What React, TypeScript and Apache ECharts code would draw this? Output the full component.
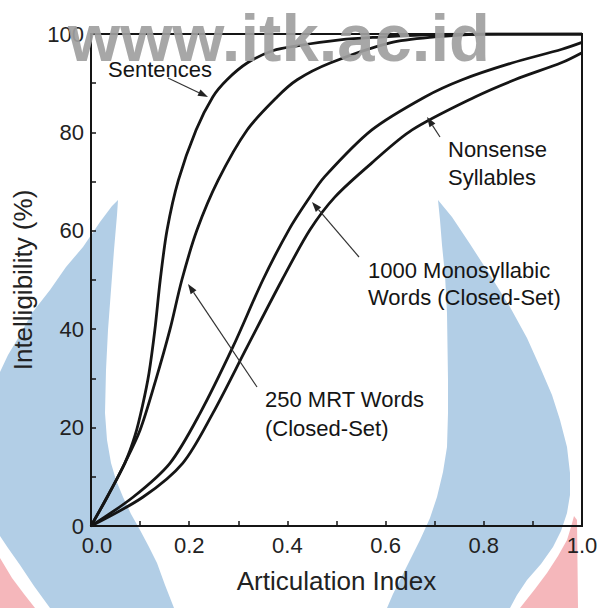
import React, { useEffect, useRef } from 'react';
import * as echarts from 'echarts';

// Curves: [Articulation Index, Intelligibility %]
const sentences: [number, number][] = [
  [0, 0], [0.033, 5.9], [0.069, 12.8], [0.09, 18.5], [0.105, 24.5], [0.118, 31],
  [0.130, 39.8], [0.141, 50], [0.155, 60.2], [0.178, 70.3], [0.214, 80.5], [0.248, 87.2],
  [0.277, 90.7], [0.318, 94.1], [0.37, 96.6], [0.42, 97.6], [0.507, 98.8], [0.574, 99.3],
  [0.7, 99.9], [1.0, 100],
];
const mrtWords: [number, number][] = [
  [0, 0], [0.033, 5.9], [0.069, 12.8], [0.1, 19.5], [0.132, 29.7], [0.161, 40],
  [0.185, 50], [0.216, 60.2], [0.259, 70.3], [0.318, 80.5], [0.379, 87.2], [0.42, 90.7],
  [0.487, 94.1], [0.609, 98.2], [0.7, 99.4], [0.8, 100], [1.0, 100],
];
const monosyllabic: [number, number][] = [
  [0, 0], [0.086, 5.9], [0.161, 12.8], [0.222, 22.9], [0.289, 36.4], [0.350, 50],
  [0.403, 60.2], [0.442, 66.3], [0.476, 71], [0.572, 80.5], [0.680, 87.2],
  [0.756, 90.7], [0.857, 94.1], [0.959, 96.9], [1.0, 98.3],
];
const nonsense: [number, number][] = [
  [0, 0], [0.106, 5.9], [0.187, 12.8], [0.248, 22.9], [0.318, 36.4], [0.389, 50],
  [0.446, 60.2], [0.497, 66.9], [0.572, 73.8], [0.654, 80.5], [0.782, 87.2],
  [0.863, 90.7], [0.959, 94.2], [1.0, 96.2],
];

const xAxisName = 'Articulation Index';
const yAxisName = 'Intelligibility (%)';
const sentencesLabel = ['Sentences'];
const nonsenseLabel = ['Nonsense', 'Syllables'];
const monoLabel = ['1000 Monosyllabic', 'Words (Closed-Set)'];
const mrtLabel = ['250 MRT Words', '(Closed-Set)'];
const watermark = 'www.itk.ac.id';

const FONT = '"Liberation Sans", Arial, Helvetica, sans-serif';
const INK = '#151515';

function arrow(x1: number, y1: number, x2: number, y2: number) {
  const ang = Math.atan2(y2 - y1, x2 - x1);
  const L = 10, W = 3.5;
  const bx = x2 - L * Math.cos(ang), by = y2 - L * Math.sin(ang);
  const px = -Math.sin(ang) * W, py = Math.cos(ang) * W;
  return [
    { type: 'line', z: 50, shape: { x1, y1, x2: bx, y2: by }, style: { stroke: '#333', lineWidth: 1.2 } },
    { type: 'polygon', z: 50, shape: { points: [[x2, y2], [bx + px, by + py], [bx - px, by - py]] }, style: { fill: '#222' } },
  ];
}

function textLines(lines: string[], x: number, y: number, lh: number) {
  return lines.map((t, i) => ({
    type: 'text', z: 50, x, y: y + i * lh,
    style: { text: t, font: `22px ${FONT}`, fill: INK, align: 'left', verticalAlign: 'middle' },
  }));
}

export default function App() {
  const ref = useRef<HTMLDivElement>(null);
  useEffect(() => {
    if (!ref.current) return;
    const chart = echarts.init(ref.current, undefined, { renderer: 'svg' });
    const lineSeries = (name: string, data: [number, number][]) => ({
      name, type: 'line', data, symbol: 'none', smooth: 0.3,
      lineStyle: { color: INK, width: 2.8 }, z: 3,
    });
    const blue = '#b2cee6';
    const pink = '#f5b7bb';
    chart.setOption({
      animation: false,
      backgroundColor: '#ffffff',
      grid: { left: 91, right: 23, top: 34, bottom: 82, show: true, borderColor: INK, borderWidth: 2, backgroundColor: 'transparent' },
      xAxis: {
        type: 'value', min: 0, max: 1, interval: 0.2,
        axisLine: { show: true, lineStyle: { color: INK, width: 2 } },
        axisTick: { show: true, inside: true, length: 5, lineStyle: { color: INK, width: 1.5 } },
        minorTick: { show: true, splitNumber: 2, length: 5, lineStyle: { color: INK, width: 1.5 } },
        splitLine: { show: false },
        axisLabel: {
          formatter: (v: number) => (v === 0 ? '{first|0.0}' : v.toFixed(1)),
          fontSize: 22, color: '#222', fontFamily: FONT, margin: 8,
          rich: { first: { fontSize: 22, color: '#222', fontFamily: FONT, padding: [0, 0, 0, 12] } },
        },
        name: xAxisName, nameLocation: 'middle', nameGap: 42,
        nameTextStyle: { fontSize: 26, color: '#222', fontFamily: FONT },
      },
      yAxis: {
        type: 'value', min: 0, max: 100, interval: 20,
        axisLine: { show: true, lineStyle: { color: INK, width: 2 } },
        axisTick: { show: true, inside: true, length: 5, lineStyle: { color: INK, width: 1.5 } },
        minorTick: { show: true, splitNumber: 2, length: 5, lineStyle: { color: INK, width: 1.5 } },
        splitLine: { show: false },
        axisLabel: { fontSize: 22, color: '#222', fontFamily: FONT, margin: 7 },
        name: yAxisName, nameLocation: 'middle', nameGap: 51,
        nameTextStyle: { fontSize: 26, color: '#222', fontFamily: FONT },
      },
      series: [
        lineSeries('Sentences', sentences),
        lineSeries('250 MRT Words (Closed-Set)', mrtWords),
        lineSeries('1000 Monosyllabic Words (Closed-Set)', monosyllabic),
        lineSeries('Nonsense Syllables', nonsense),
      ],
      graphic: [
        // watermark shapes
        {
          type: 'polygon', z: -5, silent: true,
          shape: { points: [[118, 200], [117, 215], [114, 250], [111, 290], [108, 330], [106, 370], [105, 413], [107, 440], [111, 463], [116, 480], [123, 497], [131, 514], [140, 530], [149, 547], [157, 563], [165, 585], [174, 608], [50, 608], [34, 586], [20, 565], [8, 548], [0, 536], [0, 372], [8, 355], [17, 340], [32, 313], [50, 290], [66, 267], [83, 247], [100, 222], [112, 206]] },
          style: { fill: blue },
        },
        {
          type: 'polygon', z: -5, silent: true,
          shape: { points: [[438, 200], [452, 217], [470, 244], [490, 275], [510, 307], [527, 338], [540, 367], [552, 395], [560, 420], [567, 447], [570, 473], [570, 495], [567, 513], [561, 531], [553, 547], [541, 564], [527, 580], [517, 595], [510, 608], [387, 608], [393, 594], [400, 580], [410, 560], [420, 540], [430, 518], [437, 497], [443, 472], [447, 447], [448, 413], [448, 380], [447, 313], [445, 275], [442, 245], [440, 220]] },
          style: { fill: blue },
        },
        {
          type: 'polygon', z: -5, silent: true,
          shape: { points: [[0, 558], [12, 578], [24, 594], [35, 608], [0, 608]] },
          style: { fill: pink },
        },
        {
          type: 'polygon', z: -5, silent: true,
          shape: { points: [[574, 516], [577, 520], [578, 608], [520, 608], [535, 589], [547, 573], [558, 556], [567, 540], [571, 527]] },
          style: { fill: pink },
        },
        // annotations
        ...textLines(sentencesLabel, 108, 69, 28),
        ...arrow(168, 78, 208, 97),
        ...textLines(nonsenseLabel, 448, 149, 28),
        ...arrow(440, 137, 427, 117),
        ...textLines(monoLabel, 368, 270, 27),
        ...arrow(359, 257, 312, 202),
        ...textLines(mrtLabel, 265, 399, 29),
        ...arrow(257, 387, 188, 284),
        {
          type: 'text', z: 100, x: 279, y: 37, silent: true,
          style: { text: watermark, font: `bold 67px ${FONT}`, fill: 'rgba(160,160,160,0.92)', align: 'center', verticalAlign: 'middle' },
        },
      ],
    });
    return () => chart.dispose();
  }, []);
  return <div ref={ref} style={{ position: 'absolute', left: 0, top: 0, width: 605, height: 608 }} />;
}
